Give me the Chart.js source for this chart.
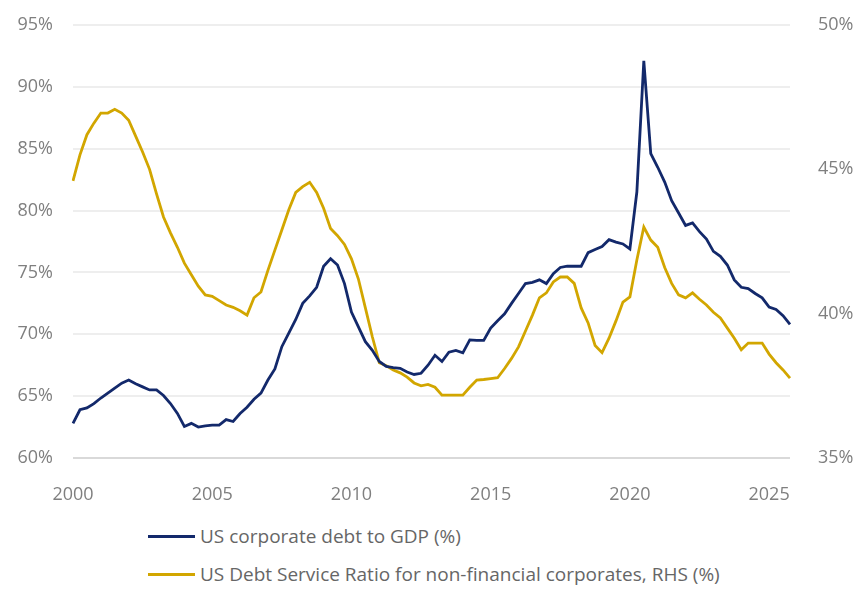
<!DOCTYPE html>
<html lang="en">
<head>
    <meta charset="UTF-8">
    <title>US corporate debt to GDP and debt service ratio</title>
    <script src="https://cdn.jsdelivr.net/npm/chart.js"></script>
    <style>
        body { margin: 0; background: #fff; font-family: "Open Sans", sans-serif; }
        #wrap { position: relative; width: 864px; height: 505px; }
        #legend { position: absolute; left: 148px; top: 517px; }
        .item { display: flex; align-items: center; height: 38px; color: #666666; font-size: 19px; }
        .swatch { width: 47px; height: 3px; margin-right: 5px; }
    </style>
</head>
<body>
    <div id="wrap"><canvas id="chart"></canvas></div>
    <div id="legend"></div>

    <script>
        // quarterly observations, 2000 Q1 onwards
        const years = [2000, 2001, 2002, 2003, 2004, 2005, 2006, 2007, 2008, 2009, 2010, 2011, 2012,
                       2013, 2014, 2015, 2016, 2017, 2018, 2019, 2020, 2021, 2022, 2023, 2024, 2025];
        const quarters = ["Q1", "Q2", "Q3", "Q4"];
        const tickYears = [2000, 2005, 2010, 2015, 2020, 2025];

        // US corporate debt to GDP (%), left axis
        const debtToGdp = [
            62.8, 63.9, 64.05, 64.4, 64.85, 65.25, 65.65, 66.05, 66.3, 66.0,
            65.75, 65.5, 65.5, 65.05, 64.4, 63.6, 62.55, 62.8, 62.5, 62.6,
            62.65, 62.65, 63.1, 62.95, 63.6, 64.1, 64.75, 65.25, 66.3, 67.2,
            69.0, 70.1, 71.2, 72.5, 73.1, 73.8, 75.5, 76.1, 75.6, 74.1,
            71.8, 70.6, 69.4, 68.7, 67.8, 67.4, 67.3, 67.25, 66.95, 66.75,
            66.85, 67.5, 68.3, 67.8, 68.55, 68.7, 68.5, 69.55, 69.5, 69.5,
            70.5, 71.1, 71.65, 72.5, 73.3, 74.1, 74.2, 74.4, 74.1, 74.9,
            75.4, 75.5, 75.5, 75.5, 76.6, 76.85, 77.1, 77.65, 77.45, 77.3,
            76.9, 81.5, 92.1, 84.6, 83.5, 82.3, 80.8, 79.8, 78.8, 79.0,
            78.3, 77.7, 76.7, 76.3, 75.6, 74.4, 73.8, 73.7, 73.3, 72.95,
            72.2, 72.0, 71.5, 70.8
        ];

        // US debt service ratio, non-financial corporates (%), right axis
        const debtService = [
            44.6, 45.5, 46.2, 46.6, 46.95, 46.95, 47.08, 46.95, 46.7, 46.15,
            45.6, 45.0, 44.15, 43.35, 42.8, 42.3, 41.75, 41.35, 40.95, 40.65,
            40.6, 40.45, 40.3, 40.22, 40.1, 39.95, 40.55, 40.75, 41.5, 42.2,
            42.9, 43.6, 44.2, 44.4, 44.55, 44.2, 43.65, 42.95, 42.7, 42.4,
            41.9, 41.2, 40.2, 39.2, 38.3, 38.2, 38.05, 37.95, 37.8, 37.6,
            37.5, 37.55, 37.45, 37.18, 37.18, 37.18, 37.18, 37.45, 37.7, 37.72,
            37.75, 37.78, 38.1, 38.45, 38.85, 39.4, 39.95, 40.55, 40.72, 41.1,
            41.27, 41.27, 41.05, 40.2, 39.68, 38.9, 38.65, 39.15, 39.75, 40.4,
            40.58, 41.86, 43.0, 42.55, 42.3, 41.6, 41.05, 40.65, 40.55, 40.72,
            40.5, 40.3, 40.05, 39.85, 39.5, 39.15, 38.75, 38.98, 38.98, 38.98,
            38.6, 38.3, 38.05, 37.77
        ];

        const seriesNames = ["US corporate debt to GDP (%)", "US Debt Service Ratio for non-financial corporates, RHS (%)"];
        const seriesColors = ["#13296b", "#d2a600"];

        const labels = [];
        years.forEach(y => quarters.forEach(q => labels.push(y + " " + q)));
        labels.length = debtToGdp.length;

        const tickFont = { family: "Open Sans", size: 18 };
        const tickColor = "#7f7f7f";

        // fixed axis sizes so the plot area sits where the original one does
        function fitY(width) {
            return axis => {
                axis.width = width;
                axis.paddingTop = 0;
                axis.paddingBottom = 0;
            };
        }

        new Chart(document.getElementById("chart"), {
            type: "line",
            data: {
                labels,
                datasets: [
                    { label: seriesNames[0], data: debtToGdp, borderColor: seriesColors[0], yAxisID: "y", borderWidth: 2.8, pointRadius: 0, tension: 0 },
                    { label: seriesNames[1], data: debtService, borderColor: seriesColors[1], yAxisID: "y1", borderWidth: 2.8, pointRadius: 0, tension: 0 }
                ]
            },
            options: {
                responsive: true,
                maintainAspectRatio: false,
                animation: false,
                layout: { padding: { top: 25, left: 0, right: 0, bottom: 0 } },
                plugins: { legend: { display: false }, tooltip: { enabled: false } },
                scales: {
                    x: {
                        grid: { display: false },
                        border: { display: false },
                        afterFit: axis => { axis.height = 47; },
                        ticks: {
                            autoSkip: false, maxRotation: 0, padding: 18,
                            font: tickFont, color: tickColor,
                            callback: function (v, i) {
                                const lab = labels[i];
                                const yr = parseInt(lab);
                                return (lab.endsWith("Q1") && tickYears.includes(yr)) ? String(yr) : "";
                            }
                        }
                    },
                    y: {
                        position: "left", min: 60, max: 95,
                        afterFit: fitY(73),
                        border: { display: false },
                        grid: {
                            drawTicks: false,
                            lineWidth: 2,
                            color: ctx => ctx.tick.value === 60 ? "#d9d9d9" : "#eeeeee"
                        },
                        ticks: { stepSize: 5, padding: 20, font: tickFont, color: tickColor, callback: v => v + "%" }
                    },
                    y1: {
                        position: "right", min: 35, max: 50,
                        afterFit: fitY(74),
                        border: { display: false },
                        grid: { display: false },
                        ticks: { stepSize: 5, padding: 20, font: tickFont, color: tickColor, callback: v => v + "%" }
                    }
                }
            }
        });

        const legend = document.getElementById("legend");
        seriesNames.forEach((name, i) => {
            const row = document.createElement("div");
            row.className = "item";
            row.innerHTML = `<span class="swatch" style="background:${seriesColors[i]}"></span><span>${name}</span>`;
            legend.appendChild(row);
        });
    </script>
</body>
</html>
